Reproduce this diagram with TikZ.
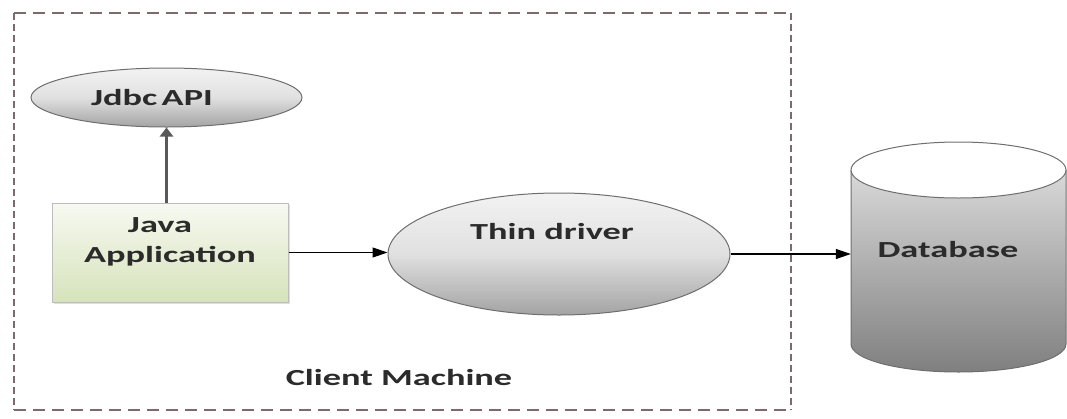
\documentclass[tikz,border=0pt]{standalone}
\usepackage{fontspec}
\setmainfont{Carlito}
\usepackage{graphicx}
\usetikzlibrary{shapes.geometric,arrows.meta,shadows}
\newcommand{\wtxt}[1]{\scalebox{1.58}[1]{#1}}
\definecolor{txtcol}{HTML}{2B2B2B}
\definecolor{framecol}{HTML}{7C6A6C}
\definecolor{ovalline}{HTML}{6E6E6E}
\definecolor{boxline}{HTML}{BDBDBD}
\definecolor{greentop}{HTML}{F7F9F1}
\definecolor{greenbot}{HTML}{D6E3BB}
\begin{document}
\begin{tikzpicture}[x=1pt,y=-1pt,
  lbl/.style={font=\fontsize{23}{28}\selectfont\bfseries, text=txtcol, inner sep=0, anchor=base},
  greyoval/.style={ellipse, draw=ovalline, line width=1pt, inner sep=0,
    top color=white!95!black, bottom color=black!36, middle color=black!12},
  hframe/.style={draw=framecol, line width=1.8pt, dash pattern=on 12pt off 7pt},
  vframe/.style={draw=framecol, line width=2.4pt, dash pattern=on 7pt off 4pt},
  harrow/.style={draw=black, line width=1.2pt, -{Triangle[length=15pt,width=10pt]}},
  varrow/.style={draw=black!65, line width=2.6pt, -{Triangle[length=9pt,width=13pt]}}
]
\useasboundingbox (0,0) rectangle (1067,418);

% client machine frame
\draw[hframe] (14,13) -- (791,13);
\draw[hframe] (14,410) -- (791,410);
\draw[vframe] (14,13) -- (14,410);
\draw[vframe] (791,13) -- (791,410);

% Jdbc API
\node[greyoval, minimum width=271pt, minimum height=59pt] (jdbc) at (166.5,97.5) {};
\node[lbl] (jdbct) at (152,105) {\wtxt{Jdbc\hspace{0.12em}API}};

% Java Application
\node[draw=boxline, line width=1pt, top color=greentop, bottom color=greenbot,
  minimum width=236pt, minimum height=99pt, inner sep=0,
  drop shadow={shadow xshift=2pt, shadow yshift=-2pt, opacity=0.25}] (app) at (170,252.5) {};
\node[lbl] (javat) at (160,232.5) {\wtxt{Java}};
\node[lbl] (applt) at (170,262) {\wtxt{Application}};

% Thin driver
\node[greyoval, minimum width=342pt, minimum height=122pt] (thin) at (559,254) {};
\node[lbl] (thint) at (552,239.5) {\wtxt{Thin driver}};

% Database cylinder
\shade[top color=black!10, bottom color=black!50]
  (851,170) -- (851,344) arc[start angle=180, end angle=360, x radius=107.5pt, y radius=28pt]
  -- (1066,170) arc[start angle=0, end angle=180, x radius=107.5pt, y radius=28pt] -- cycle;
\draw[ovalline, line width=1pt]
  (851,170) -- (851,344) arc[start angle=180, end angle=360, x radius=107.5pt, y radius=28pt]
  -- (1066,170);
\draw[ovalline, line width=1pt, fill=white] (958.5,170) ellipse [x radius=107.5pt, y radius=28pt];
\node[minimum width=215pt, minimum height=230pt, inner sep=0] (db) at (958.5,254) {};
\node[lbl] (dbt) at (948,257.5) {\wtxt{Database}};

% Client Machine label
\node[lbl] (client) at (399,385.5) {\wtxt{Client Machine}};

% connectors
\draw[varrow] (jdbc.south |- app.north) -- (jdbc.south);
\draw[harrow] (app.east) -- (app.east -| thin.west);
\draw[harrow] (thin.east) -- (db.west);
\end{tikzpicture}
\end{document}
